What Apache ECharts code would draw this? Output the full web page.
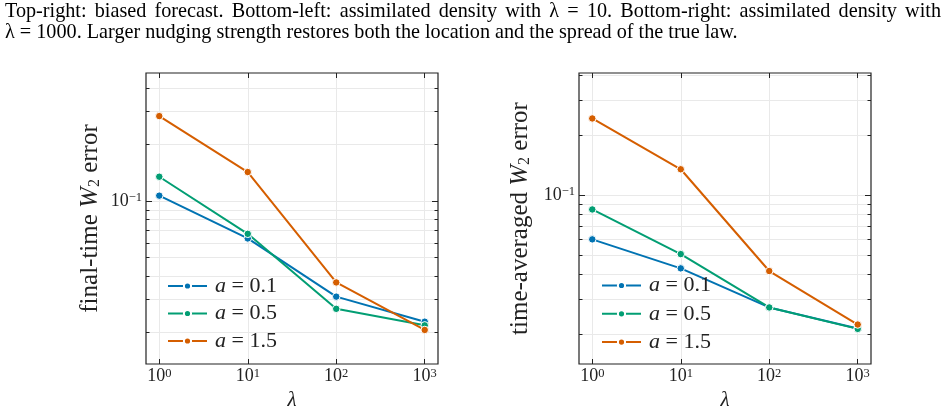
<!DOCTYPE html>
<html>
<head>
<meta charset="utf-8">
<script src="https://cdn.jsdelivr.net/npm/echarts@6/dist/echarts.min.js"></script>
<style>
  html, body { margin: 0; padding: 0; background: #fff; }
  #chart { width: 949px; height: 415px; }
</style>
</head>
<body>
<div id="chart"></div>
<script>
// ---- data ----
const lambdas = [1, 10, 100, 1000];
const seriesNames = ['a = 0.1', 'a = 0.5', 'a = 1.5'];
const finalErrA01 = [0.107, 0.0633, 0.0310, 0.0228];
const finalErrA05 = [0.135, 0.0670, 0.0267, 0.0218];
const finalErrA15 = [0.284, 0.143, 0.0369, 0.0206];
const avgErrA01 = [0.0600, 0.0429, 0.0273, 0.0214];
const avgErrA05 = [0.0848, 0.0506, 0.0273, 0.0213];
const avgErrA15 = [0.243, 0.135, 0.0416, 0.0224];
const xTicks = [1, 10, 100, 1000];
const yMajorTicks = [0.1];
const yMinorTicks = [0.02, 0.03, 0.04, 0.05, 0.06, 0.07, 0.08, 0.09, 0.2, 0.3, 0.4];
const yTitles = ['final-time', 'time-averaged'];
const captionLine1 = 'Top-right: biased forecast. Bottom-left: assimilated density with \u03bb = 10. Bottom-right: assimilated density with';
const captionLine2 = '\u03bb = 1000. Larger nudging strength restores both the location and the spread of the true law.';

// axis ranges (log10 units)
const xLogRange = [-0.15, 3.15];
const yLogRanges = [[-1.8675, -0.317], [-1.848, -0.386]];

const colors = ['#0173b2', '#029e73', '#d55e00'];
const serif = '"Liberation Serif", "Times New Roman", serif';
const ink = '#222';
const gridColor = '#e9e9e9';
const LOG = Math.log10;

let chartDom = document.getElementById('chart');
let chart = echarts.init(chartDom, null, {renderer: 'canvas'});

const tickRich = {
    b: {fontSize: 18, fontFamily: serif, color: ink, lineHeight: 19},
    s: {fontSize: 12.5, fontFamily: serif, color: ink, lineHeight: 12, verticalAlign: 'top'}
};
function powLabel(v) {
    let e = Math.round(v);
    return '{b|10}{s|' + (e < 0 ? '\u2212' + (-e) : e) + '}';
}

let xAxes = [];
let yAxes = [];
[0, 1].forEach(function (i) {
    let yr = yLogRanges[i];
    // data axes (log scale)
    xAxes.push({
        type: 'log', gridIndex: i, show: false,
        min: Math.pow(10, xLogRange[0]), max: Math.pow(10, xLogRange[1]),
        axisLine: {onZero: false}
    });
    // bottom ticks/labels
    xAxes.push({
        type: 'value', gridIndex: i, position: 'bottom',
        min: xLogRange[0], max: xLogRange[1],
        axisLine: {show: false, onZero: false},
        axisTick: {show: true, inside: true, length: 5, customValues: xTicks.map(LOG), lineStyle: {color: ink, width: 1}},
        axisLabel: {show: true, customValues: xTicks.map(LOG), margin: 3, formatter: powLabel, rich: tickRich},
        splitLine: {show: true, lineStyle: {color: gridColor, width: 1}},
        name: '\u03bb', nameLocation: 'middle', nameGap: 25,
        nameTextStyle: {fontSize: 21, fontStyle: 'italic', fontFamily: serif, color: ink}
    });
    // top ticks
    xAxes.push({
        type: 'value', gridIndex: i, position: 'top',
        min: xLogRange[0], max: xLogRange[1],
        axisLine: {show: false, onZero: false},
        axisTick: {show: true, inside: true, length: 5, customValues: xTicks.map(LOG), lineStyle: {color: ink, width: 1}},
        axisLabel: {show: false},
        splitLine: {show: false}
    });

    yAxes.push({
        type: 'log', gridIndex: i, show: false,
        min: Math.pow(10, yr[0]), max: Math.pow(10, yr[1]),
        axisLine: {onZero: false}
    });
    ['left', 'right'].forEach(function (side) {
        yAxes.push({
            type: 'value', gridIndex: i, position: side,
            min: yr[0], max: yr[1],
            axisLine: {show: false, onZero: false},
            axisTick: {show: true, inside: true, length: 3.5, customValues: yMinorTicks.map(LOG), lineStyle: {color: ink, width: 1}},
            axisLabel: {show: false},
            splitLine: {show: side === 'left', lineStyle: {color: gridColor, width: 1}}
        });
        let major = {
            type: 'value', gridIndex: i, position: side,
            min: yr[0], max: yr[1],
            axisLine: {show: false, onZero: false},
            axisTick: {show: true, inside: true, length: 6, customValues: yMajorTicks.map(LOG), lineStyle: {color: ink, width: 1}},
            axisLabel: {show: side === 'left', customValues: yMajorTicks.map(LOG), margin: 4, formatter: powLabel, rich: tickRich},
            splitLine: {show: side === 'left', lineStyle: {color: gridColor, width: 1}}
        };
        if (side === 'left') {
            major.name = '{n|' + yTitles[i] + ' }{w|W}{sub|2}{n| error}';
            major.nameLocation = 'middle';
            major.nameGap = i === 0 ? 43 : 46;
            major.nameTextStyle = {
                rich: {
                    n: {fontSize: 25, fontFamily: serif, color: ink, lineHeight: 26},
                    w: {fontSize: 25, fontFamily: serif, fontStyle: 'italic', color: ink, lineHeight: 26},
                    sub: {fontSize: 16, fontFamily: serif, color: ink, lineHeight: 14, verticalAlign: 'bottom'}
                }
            };
        }
        yAxes.push(major);
    });
});

const panelData = [
    [finalErrA01, finalErrA05, finalErrA15],
    [avgErrA01, avgErrA05, avgErrA15]
];
let series = [];
panelData.forEach(function (group, i) {
    group.forEach(function (vals, k) {
        series.push({
            name: seriesNames[k],
            type: 'line',
            xAxisIndex: i * 3,
            yAxisIndex: i * 5,
            data: lambdas.map(function (x, j) { return [x, vals[j]]; }),
            symbol: 'circle',
            symbolSize: 7.5,
            showSymbol: true,
            lineStyle: {color: colors[k], width: 2},
            itemStyle: {color: colors[k], borderColor: '#fff', borderWidth: 1},
            z: 3
        });
    });
});

function legendFor(left, top, gap) {
    return {
        data: seriesNames,
        orient: 'vertical',
        left: left, top: top,
        itemWidth: 39, itemHeight: 9, itemGap: gap,
        selectedMode: false,
        formatter: function (name) { return '{i|a}{t| = ' + name.split('= ')[1] + '}'; },
        textStyle: {
            color: ink, fontSize: 22, lineHeight: 22, fontFamily: serif,
            rich: {
                i: {fontSize: 22, fontStyle: 'italic', fontFamily: serif, color: ink, padding: [0, 0, 0, 3]},
                t: {fontSize: 22, fontFamily: serif, color: ink}
            }
        }
    };
}

// justified first caption line
const captionSize = 20.2;
function captionWords(text, baseY, x0, x1) {
    let ctx = document.createElement('canvas').getContext('2d');
    ctx.font = captionSize + 'px ' + serif;
    let words = text.split(' ');
    let widths = words.map(function (w) { return ctx.measureText(w).width; });
    let total = widths.reduce(function (a, b) { return a + b; }, 0);
    let gap = (x1 - x0 - total) / (words.length - 1);
    let x = x0;
    return words.map(function (w, idx) {
        let el = {
            type: 'text', x: x, y: baseY,
            style: {text: w, fontSize: captionSize, fontFamily: serif, fill: '#000', verticalAlign: 'middle'}
        };
        x += widths[idx] + gap;
        return el;
    });
}

let graphics = captionWords(captionLine1, 12, 5, 941);
graphics.push({
    type: 'text', x: 5, y: 33,
    style: {text: captionLine2, fontSize: captionSize, fontFamily: serif, fill: '#000', verticalAlign: 'middle'}
});

const gridBase = {
    top: 73, width: 292, height: 291, show: true,
    borderColor: ink, borderWidth: 1.2, backgroundColor: 'transparent',
    outerBoundsMode: 'none', containLabel: false
};

let options = {
    backgroundColor: '#fff',
    animation: false,
    grid: [
        Object.assign({left: 146}, gridBase),
        Object.assign({left: 579}, gridBase)
    ],
    xAxis: xAxes,
    yAxis: yAxes,
    legend: [legendFor(162, 270, 5.5), legendFor(596, 269.5, 6.3)],
    graphic: graphics,
    series: series
};
chart.setOption(options);
</script>
</body>
</html>
